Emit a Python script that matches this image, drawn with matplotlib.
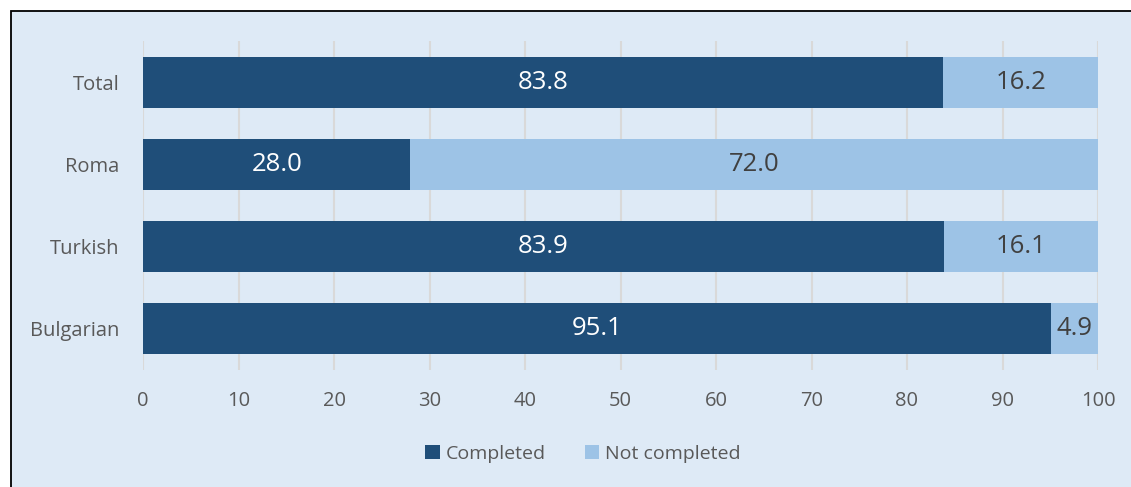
import matplotlib.pyplot as plt
from matplotlib.patches import Rectangle

groups = ["Total", "Roma", "Turkish", "Bulgarian"]
completed = [83.8, 28.0, 83.9, 95.1]
not_completed = [16.2, 72.0, 16.1, 4.9]

dark = "#1F4E79"
light = "#9DC3E6"
bg = "#DEEAF6"
grey = "#595959"

plt.rcParams["font.family"] = ["Open Sans", "DejaVu Sans"]

fig = plt.figure(figsize=(11.31, 4.87), dpi=100)
fig.patch.set_facecolor("white")
# boxed panel with black border on top/left
fig.patches.append(Rectangle((11 / 1131, -0.05), 1.1, 1 - 11 / 487 + 0.05,
                             transform=fig.transFigure, facecolor=bg,
                             edgecolor="black", linewidth=1.3, zorder=-10))

ax = fig.add_axes([143 / 1131, 1 - 370 / 487, 955 / 1131, 329 / 487])
ax.set_facecolor(bg)
ax.patch.set_alpha(0)

y = range(len(groups))
b1 = ax.barh(y, completed, height=0.62, color=dark, label="Completed", zorder=3)
b2 = ax.barh(y, not_completed, left=completed, height=0.62, color=light,
             label="Not completed", zorder=3)

for i in y:
    ax.text(completed[i] / 2, i, f"{completed[i]:.1f}", ha="center", va="center",
            color="white", fontsize=18.5, zorder=4)
    ax.text(completed[i] + not_completed[i] / 2, i, f"{not_completed[i]:.1f}",
            ha="center", va="center", color="#404040", fontsize=18.5, zorder=4)

ax.set_xlim(0, 100)
ax.set_ylim(3.5, -0.5)
ax.set_xticks(range(0, 101, 10))
ax.set_yticks(list(y))
ax.set_yticklabels(groups)
ax.tick_params(axis="both", length=0, labelsize=14.5, colors=grey)
ax.tick_params(axis="y", pad=17)
ax.tick_params(axis="x", pad=15)
ax.xaxis.grid(True, color="#D9D9D9", linewidth=1.5, zorder=0)
for s in ax.spines.values():
    s.set_visible(False)

leg = fig.legend(handles=[b1, b2], loc="center", bbox_to_anchor=(583 / 1131, 1 - 454 / 487),
                 ncol=2, frameon=False, fontsize=14, handlelength=0.75, handleheight=0.75,
                 handletextpad=0.3, columnspacing=2.0)
for t in leg.get_texts():
    t.set_color(grey)

fig.savefig("out.png", dpi=100)
